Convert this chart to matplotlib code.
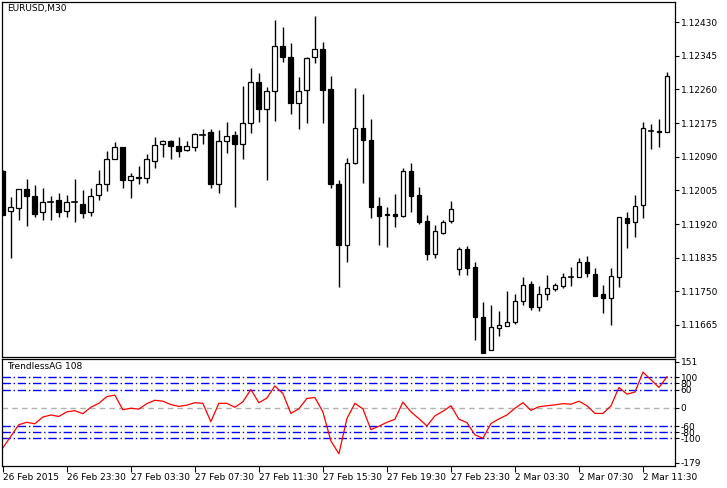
import matplotlib
matplotlib.use("Agg")
import matplotlib.pyplot as plt
from matplotlib.patches import Rectangle

opens = [112054,111952,111960,112008,111990,111950,111977,111980,111952,111977,111971,111950,111993,112020,112084,112115,112030,112040,112036,112078,
 112122,112130,112117,112106,112114,112147,112153,112020,112129,112145,112121,112174,112278,112210,112255,112371,112341,112225,112258,112341,
 112361,112260,112020,111868,112073,112163,112132,111966,111945,111945,111941,112053,111993,111928,111845,111898,111927,111806,111857,111812,
 111686,111602,111657,111663,111672,111726,111768,111711,111743,111757,111764,111786,111786,111823,111793,111743,111732,111786,111934,111924,
 111967,112157,112156,112153]
highs = [112057,111989,112008,112034,112019,112011,111991,111998,111993,112034,112006,112011,112057,112105,112127,112115,112048,112067,112097,112141,
 112132,112132,112141,112129,112151,112160,112161,112158,112178,112156,112269,112313,112302,112265,112435,112419,112377,112291,112342,112446,
 112380,112293,112031,112087,112263,112249,112186,111988,111963,111996,112062,112074,112014,111943,111918,111930,111977,111861,111864,111825,
 111724,111716,111699,111752,111743,111787,111775,111764,111791,111771,111796,111812,111835,111838,111810,111766,111810,111937,111950,111993,
 112179,112172,112185,112305]
lows = [111943,111835,111930,111916,111938,111929,111930,111939,111937,111926,111935,111940,111981,112004,112094,112012,111987,112020,112023,112062,
 112090,112085,112090,112105,112105,112122,112012,111999,112100,111964,112085,112151,112179,112031,112181,112330,112199,112161,112174,112328,
 112174,112012,111760,111823,112071,112023,111934,111868,111863,111913,111939,111950,111919,111830,111835,111896,111922,111792,111792,111627,
 111593,111602,111638,111663,111668,111715,111704,111699,111727,111752,111758,111764,111786,111787,111737,111695,111665,111762,111860,111888,
 111934,112110,112114,112153]
closes = [111943,111962,112008,111992,111946,111976,111975,111951,111975,111975,111949,111990,112021,112084,112115,112030,112041,112036,112084,112119,
 112129,112116,112105,112117,112147,112146,112020,112129,112142,112121,112174,112278,112210,112255,112371,112341,112227,112255,112339,112361,
 112258,112020,111868,112073,112162,112132,111964,111941,111943,111940,112053,111992,111924,111845,111903,111924,111958,111857,111810,111686,
 111593,111659,111665,111672,111726,111766,111710,111743,111759,111765,111786,111785,111823,111796,111737,111732,111788,111937,111922,111965,
 112162,112155,112153,112293]
trend = [-131,-93,-55,-47,-52,-30,-23,-28,-13,-9,-19,2,15,37,42,-6,-1,-4,14,25,
 22,11,5,9,17,15,-45,15,15,2,20,60,17,32,72,47,-18,-3,31,34,
 -13,-108,-150,-35,15,-3,-71,-60,-47,-37,19,-13,-35,-59,-26,-11,7,-37,-48,-88,
 -99,-51,-36,-23,-1,17,-8,4,7,10,14,12,22,7,-18,-18,7,67,45,52,
 117,92,67,102]
price_ticks = [1.12430,1.12345,1.12260,1.12175,1.12090,1.12005,1.11920,1.11835,1.11750,1.11665]
level_ticks = [151,100,80,60,0,-60,-80,-100,-179]
blue_levels = [100,80,60,-60,-80,-100]
date_labels = ["26 Feb 2015","26 Feb 23:30","27 Feb 03:30","27 Feb 07:30","27 Feb 11:30","27 Feb 15:30",
               "27 Feb 19:30","27 Feb 23:30","2 Mar 03:30","2 Mar 07:30","2 Mar 11:30"]
date_idx = [0,8,16,24,32,40,48,56,64,72,80]

W, H = 727, 488
fig = plt.figure(figsize=(W/100, H/100), dpi=100)
fs = 6.5
ax = fig.add_axes([2/W, (H-357)/H, 673/W, 355/H])
ax2 = fig.add_axes([2/W, (H-466)/H, 673/W, 107/H], sharex=ax)

bw = 0.6
for i,(o,h,l,c) in enumerate(zip(opens,highs,lows,closes)):
    o,h,l,c = o/1e5,h/1e5,l/1e5,c/1e5
    ax.plot([i,i],[l,h],color='black',lw=1,solid_capstyle='butt',zorder=1)
    bot, top = min(o,c), max(o,c)
    if abs(top-bot) < 0.00002:
        ax.plot([i-bw/2,i+bw/2],[c,c],color='black',lw=1.2,zorder=2)
    else:
        ax.add_patch(Rectangle((i-bw/2,bot),bw,top-bot,facecolor='white' if c>o else 'black',
                               edgecolor='black',lw=0.9,zorder=2))
ax.set_xlim(-0.1, 84.0)
ax.set_ylim(1.11584, 1.12481)
ax.yaxis.tick_right()
ax.set_yticks(price_ticks)
ax.set_yticklabels([f"{p:.5f}" for p in price_ticks], fontsize=fs)
ax.tick_params(axis='y', length=3, pad=1, width=0.8)
ax.tick_params(axis='x', bottom=False, labelbottom=False)
ax.text(0.008, 0.995, "EURUSD,M30", transform=ax.transAxes, fontsize=fs, va='top', ha='left')

x = list(range(len(trend)))
for lv in blue_levels:
    ax2.axhline(lv, color='blue', lw=1, ls=(0,(6,2,1,2)))
ax2.axhline(0, color='#b0b0b0', lw=1, ls=(0,(4,3)))
ax2.plot(x, trend, color='red', lw=0.9)
ax2.set_ylim(-190, 160)
ax2.yaxis.tick_right()
ax2.set_yticks(level_ticks)
ax2.set_yticklabels([str(v) for v in level_ticks], fontsize=fs)
ax2.tick_params(axis='y', length=3, pad=1, width=0.8)
ax2.set_xticks(date_idx)
ax2.set_xticklabels(date_labels, fontsize=fs, ha='left')
ax2.tick_params(axis='x', length=4, pad=1, width=0.8)
ax2.text(0.008, 0.97, "TrendlessAG 108", transform=ax2.transAxes, fontsize=fs, va='top', ha='left')

for a in (ax, ax2):
    for s in a.spines.values():
        s.set_linewidth(0.9)
fig.savefig("out.png", dpi=100)
